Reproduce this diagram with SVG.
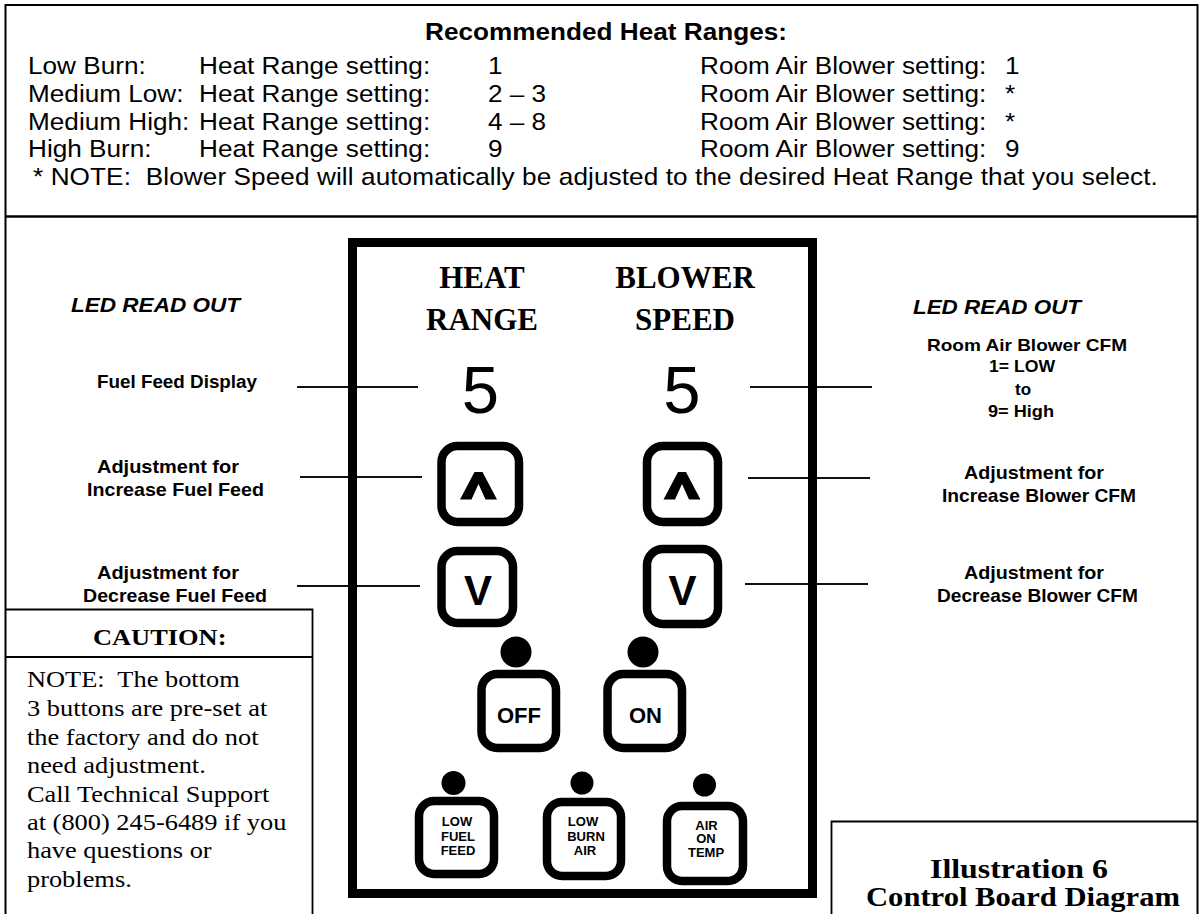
<svg xmlns="http://www.w3.org/2000/svg" width="1199" height="914" viewBox="0 0 1199 914">
<style>
.sans{font-family:"Liberation Sans",Arial,sans-serif;fill:#000}
.serif{font-family:"Liberation Serif","Times New Roman",serif;fill:#000}
.b{font-weight:bold}
.i{font-style:italic}
.mid{text-anchor:middle}
.frame{fill:none;stroke:#000;stroke-width:2}
.btn{fill:#fff;stroke:#000;stroke-width:8.5}
.led{fill:#000}
.lead{stroke:#111;stroke-width:2;fill:none}
</style>
<rect width="1199" height="914" fill="#fff"/>

<g id="frame">
<rect class="frame" x="5.5" y="5" width="1192" height="930"/>
<line x1="5" y1="216.5" x2="1198" y2="216.5" stroke="#000" stroke-width="2.5"/>
</g>

<g id="heat-ranges" class="sans" font-size="24" transform="scale(1.09 1)">
<text class="b mid" x="556" y="40">Recommended Heat Ranges:</text>
<text x="25.7" y="74">Low Burn:</text>
<text y="74" xml:space="preserve"><tspan x="182.6">Heat Range setting: </tspan><tspan x="447.7">1</tspan></text>
<text y="74" xml:space="preserve"><tspan x="642.2">Room Air Blower setting: </tspan><tspan x="922">1</tspan></text>
<text x="25.7" y="102">Medium Low:</text>
<text y="102" xml:space="preserve"><tspan x="182.6">Heat Range setting: </tspan><tspan x="447.7">2 – 3</tspan></text>
<text y="102" xml:space="preserve"><tspan x="642.2">Room Air Blower setting: </tspan><tspan x="922">*</tspan></text>
<text x="25.7" y="130">Medium High:</text>
<text y="130" xml:space="preserve"><tspan x="182.6">Heat Range setting: </tspan><tspan x="447.7">4 – 8</tspan></text>
<text y="130" xml:space="preserve"><tspan x="642.2">Room Air Blower setting: </tspan><tspan x="922">*</tspan></text>
<text x="25.7" y="157">High Burn:</text>
<text y="157" xml:space="preserve"><tspan x="182.6">Heat Range setting: </tspan><tspan x="447.7">9</tspan></text>
<text y="157" xml:space="preserve"><tspan x="642.2">Room Air Blower setting: </tspan><tspan x="922">9</tspan></text>
<text x="30.3" y="185" xml:space="preserve" textLength="1032" lengthAdjust="spacing">* NOTE:  Blower Speed will automatically be adjusted to the desired Heat Range that you select.</text>
</g>

<g id="connectors">
<line class="lead" x1="297" y1="387" x2="418" y2="387"/>
<line class="lead" x1="300" y1="477" x2="422" y2="477"/>
<line class="lead" x1="297" y1="586" x2="420" y2="586"/>
<line class="lead" x1="750" y1="387" x2="872" y2="387"/>
<line class="lead" x1="748" y1="478" x2="870" y2="478"/>
<line class="lead" x1="745" y1="584" x2="868" y2="584"/>
</g>

<g id="board">
<rect x="352.5" y="242.5" width="460" height="651" fill="none" stroke="#000" stroke-width="9"/>
<text class="serif b mid" font-size="31" x="482" y="288">HEAT</text>
<text class="serif b mid" font-size="31" x="482" y="330">RANGE</text>
<text class="serif b mid" font-size="31" x="685" y="288">BLOWER</text>
<text class="serif b mid" font-size="31" x="685" y="330">SPEED</text>
</g>

<g id="heat-display">
<text class="sans mid" font-size="67" x="480.5" y="413">5</text>
</g>
<g id="blower-display">
<text class="sans mid" font-size="67" x="682" y="413">5</text>
</g>

<g id="heat-up">
<rect class="btn" x="441.5" y="446" width="77.5" height="76" rx="16"/>
<polygon points="474.5,472 482.5,472 497,499.5 485.5,499.5 478.5,484 471.5,499.5 460,499.5" fill="#000"/>
</g>
<g id="blower-up">
<rect class="btn" x="647" y="446" width="71" height="76" rx="16"/>
<polygon points="678,472 686,472 700.5,499.5 689,499.5 682,484 675,499.5 663.5,499.5" fill="#000"/>
</g>
<g id="heat-down">
<rect class="btn" x="441.5" y="551" width="71.5" height="72" rx="16"/>
<text class="sans b mid" font-size="42" x="478" y="605">V</text>
</g>
<g id="blower-down">
<rect class="btn" x="647" y="549" width="71" height="75" rx="16"/>
<text class="sans b mid" font-size="42" x="682.5" y="605">V</text>
</g>

<g id="off-button">
<circle class="led" cx="516" cy="652" r="15.5"/>
<rect class="btn" x="481.5" y="674" width="74.5" height="74" rx="16"/>
<text class="sans b mid" font-size="22" x="519" y="723">OFF</text>
</g>
<g id="on-button">
<circle class="led" cx="643" cy="652" r="15.5"/>
<rect class="btn" x="607.5" y="674" width="74.5" height="74" rx="16"/>
<text class="sans b mid" font-size="22" x="645.5" y="723">ON</text>
</g>

<g id="low-fuel-feed">
<circle class="led" cx="453.5" cy="783" r="12"/>
<rect class="btn" x="419" y="801" width="75" height="73" rx="15"/>
<text class="sans b mid" font-size="13"><tspan x="457" y="826">LOW</tspan><tspan x="458" y="841">FUEL</tspan><tspan x="458" y="855">FEED</tspan></text>
</g>
<g id="low-burn-air">
<circle class="led" cx="582" cy="783" r="11.5"/>
<rect class="btn" x="547" y="802" width="74" height="74" rx="15"/>
<text class="sans b mid" font-size="13"><tspan x="583" y="826">LOW</tspan><tspan x="586" y="841">BURN</tspan><tspan x="585" y="855">AIR</tspan></text>
</g>
<g id="air-on-temp">
<circle class="led" cx="704.5" cy="785" r="11.5"/>
<rect class="btn" x="667" y="806" width="76" height="75" rx="15"/>
<text class="sans b mid" font-size="13"><tspan x="706.5" y="830">AIR</tspan><tspan x="706" y="843">ON</tspan><tspan x="706" y="857">TEMP</tspan></text>
</g>

<g id="left-labels" class="sans b">
<text class="i" font-size="21" x="71" y="312" textLength="169" lengthAdjust="spacingAndGlyphs">LED READ OUT</text>
<text font-size="18" x="97" y="388" textLength="160" lengthAdjust="spacingAndGlyphs">Fuel Feed Display</text>
<text font-size="18.5" x="97" y="473" textLength="142" lengthAdjust="spacingAndGlyphs">Adjustment for</text>
<text font-size="18.5" x="87" y="496" textLength="177" lengthAdjust="spacingAndGlyphs">Increase Fuel Feed</text>
<text font-size="18.5" x="97" y="579" textLength="142" lengthAdjust="spacingAndGlyphs">Adjustment for</text>
<text font-size="18.5" x="83" y="602" textLength="184" lengthAdjust="spacingAndGlyphs">Decrease Fuel Feed</text>
</g>

<g id="right-labels" class="sans b">
<text class="i" font-size="21" x="913" y="314" textLength="168" lengthAdjust="spacingAndGlyphs">LED READ OUT</text>
<text font-size="17" x="927" y="351" textLength="200" lengthAdjust="spacingAndGlyphs">Room Air Blower CFM</text>
<text font-size="17" x="989" y="372" textLength="66" lengthAdjust="spacingAndGlyphs">1= LOW</text>
<text class="mid" font-size="17" x="1023" y="395">to</text>
<text font-size="17" x="988" y="417" textLength="66" lengthAdjust="spacingAndGlyphs">9= High</text>
<text font-size="18.5" x="964" y="479" textLength="140" lengthAdjust="spacingAndGlyphs">Adjustment for</text>
<text font-size="18.5" x="942" y="502" textLength="194" lengthAdjust="spacingAndGlyphs">Increase Blower CFM</text>
<text font-size="18.5" x="964" y="579" textLength="140" lengthAdjust="spacingAndGlyphs">Adjustment for</text>
<text font-size="18.5" x="937" y="602" textLength="201" lengthAdjust="spacingAndGlyphs">Decrease Blower CFM</text>
</g>

<g id="caution">
<path d="M6 609.5 H312.5 V914 M6 657 H312.5" fill="none" stroke="#000" stroke-width="1.8"/>
<g class="serif" font-size="24" transform="scale(1.1 1)">
<text class="b mid" x="145.2" y="645">CAUTION:</text>
<text x="24.5" y="687" xml:space="preserve">NOTE:  The bottom</text>
<text x="24.5" y="716">3 buttons are pre-set at</text>
<text x="24.5" y="745">the factory and do not</text>
<text x="24.5" y="773">need adjustment.</text>
<text x="24.5" y="802">Call Technical Support</text>
<text x="24.5" y="830">at (800) 245-6489 if you</text>
<text x="24.5" y="858">have questions or</text>
<text x="24.5" y="887">problems.</text>
</g>
</g>

<g id="illustration-title">
<path d="M831.5 914 V821.5 H1198" fill="none" stroke="#000" stroke-width="1.8"/>
<text class="serif b" font-size="28" x="930" y="878" textLength="178" lengthAdjust="spacingAndGlyphs">Illustration 6</text>
<text class="serif b" font-size="28" x="866" y="906" textLength="314" lengthAdjust="spacingAndGlyphs">Control Board Diagram</text>
</g>
</svg>
